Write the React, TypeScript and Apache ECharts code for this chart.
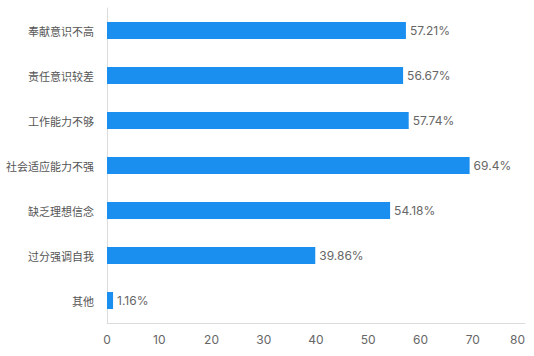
import React, { useEffect, useRef } from "react";
import * as echarts from "echarts";

const categories = ["奉献意识不高", "责任意识较差", "工作能力不够", "社会适应能力不强", "缺乏理想信念", "过分强调自我", "其他"];
const values = [57.21, 56.67, 57.74, 69.4, 54.18, 39.86, 1.16];

export default function App() {
  const ref = useRef<HTMLDivElement>(null);
  useEffect(() => {
    const chart = echarts.init(ref.current!, null, { renderer: "svg" });
    chart.setOption({
      animation: false,
      grid: { left: 107, right: 9, top: 8, bottom: 33, containLabel: false, outerBoundsMode: "none" },
      xAxis: {
        type: "value",
        min: 0,
        max: 80,
        interval: 10,
        axisLine: { show: true, lineStyle: { color: "#dcdcdc" } },
        axisTick: { show: false },
        splitLine: { show: false },
        axisLabel: { color: "#666", fontSize: 12, margin: 10, fontFamily: "Inter", alignMaxLabel: "right" },
      },
      yAxis: {
        type: "category",
        inverse: true,
        data: categories,
        axisLine: { show: true, lineStyle: { color: "#dcdcdc" } },
        axisTick: { show: false },
        axisLabel: { color: "#555", fontSize: 11, margin: 13, fontFamily: "Noto Sans CJK SC" },
      },
      series: [
        {
          type: "bar",
          data: values,
          barWidth: 17,
          itemStyle: { color: "#1a8ff0" },
          label: {
            show: true,
            position: "right",
            distance: 4,
            color: "#666",
            fontSize: 12,
            fontFamily: "Inter",
            formatter: (p: any) => p.value + "%",
          },
        },
      ],
    });
    return () => chart.dispose();
  }, []);
  return <div ref={ref} style={{ position: "fixed", left: 0, top: 0, width: 534, height: 356, background: "#fff" }} />;
}
